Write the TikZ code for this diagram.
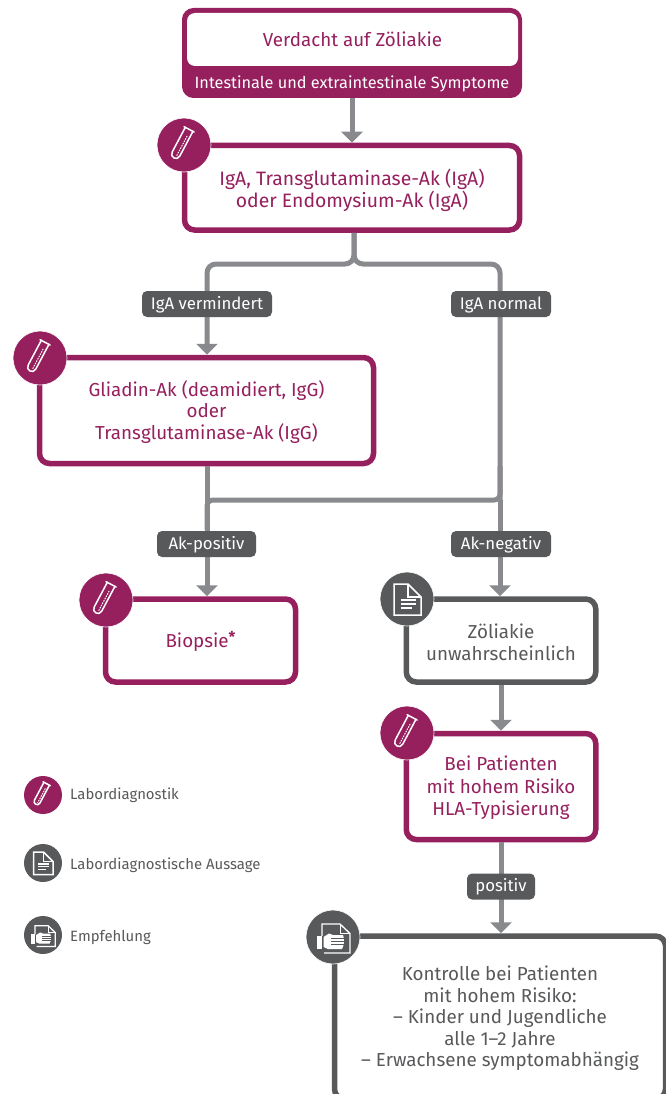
\documentclass[tikz,border=0pt]{standalone}
\usepackage{fontspec}
\setmainfont{Fira Sans}
\usetikzlibrary{arrows.meta}
\definecolor{mag}{HTML}{96205E}
\definecolor{dgray}{HTML}{58595B}
\definecolor{lgray}{HTML}{898A8D}
\newcommand\tdn[1]{\rule{0pt}{#1pt}}
\tikzset{
  box/.style={draw=#1,text=#1,fill=white,line width=5.5pt,rounded corners=10pt,align=center,font=\fontsize{18.8}{21.5}\selectfont,inner sep=0pt},
  lab/.style={fill=dgray,text=white,rounded corners=5pt,font=\fontsize{16.8}{18}\selectfont,inner sep=0pt,minimum height=26pt,text height=10.5pt,text depth=0pt},
  conn/.style={draw=lgray,line width=5pt},
  arr/.style={conn,-{Triangle[width=21pt,length=11pt]}},
  iconbg/.style={circle,fill=#1,draw=white,line width=.6pt,inner sep=0pt,minimum size=54pt},
  legbg/.style={circle,fill=#1,inner sep=0pt,minimum size=38pt},
  legtxt/.style={text=dgray,anchor=west,inner sep=0pt,font=\fontsize{14.9}{16}\selectfont},
  pics/tubeicon/.style={code={
    \begin{scope}[shift={(-2.4,-1.5)},rotate=-28,draw=white,line width=1.5pt,line cap=round,line join=round]
      \draw (-5.7,-16) -- (5.7,-16);
      \draw (-4.3,-16) -- (-4.3,12) .. controls (-4.3,17.8) and (4.3,17.8) .. (4.3,12) -- (4.3,-16);
      \draw[line width=1pt,dash pattern=on 1pt off 1.6pt] (1.4,-9) -- (1.4,13);
    \end{scope}}},
  pics/pageicon/.style={code={
    \draw[white,line width=1.5pt,line join=miter] (-13,-15) -- (1,-15) -- (14,-2) -- (14,16) -- (-13,16) -- cycle;
    \draw[white,line width=1.2pt] (1,-15) -- (1,-2) -- (14,-2);
    \draw[white,line width=1.6pt] (-6.5,1) -- (9,1) (-6.5,5) -- (9,5) (-6.5,9) -- (4.7,9);}},
  pics/handicon/.style={code={
    \draw[white,line width=1.3pt,line join=miter] (-11,-1) -- (-11,-13) -- (7,-13) -- (17,-3.5) -- (17,16) -- (-9,16);
    \draw[white,line width=1pt] (7,-13) -- (7,-3.5) -- (17,-3.5);
    \fill[white] (-16,-1) rectangle (-11,12);
    \fill[white] (-9.5,0) -- (-4,-3.5) -- (0,-2) -- (10,-2) .. controls (11.5,2) and (11.5,8) .. (9,12) -- (-5,12) -- (-9.5,10) -- cycle;
    \draw[dgray,line width=.5pt] (-2,1.5) -- (11,1.5) (-2,4.5) -- (11,4.5) (-2,7.5) -- (11,7.5);}}
}
\begin{document}
\begin{tikzpicture}[x=1pt,y=-1pt]
\useasboundingbox (0,0) rectangle (666,1094);
\clip (0,0) rectangle (666,1094);
% boxes
\node[draw=mag,fill=mag,line width=1pt,rounded corners=11pt,minimum width=339pt,minimum height=89pt,inner sep=0pt] (b1) at (352,53) {};
\node[fill=white,text=mag,rounded corners=8pt,minimum width=331pt,minimum height=53pt,inner sep=0pt,font=\fontsize{18.8}{21.5}\selectfont,text height=14pt,text depth=0pt] (b1t) at (352.5,39.5) {Verdacht auf Zöliakie};
\node[text=white,inner sep=0pt,font=\fontsize{16.3}{18}\selectfont] (b1b) at (352,83.5) {Intestinale und extraintestinale Symptome};
\node[box=mag,minimum width=335pt,minimum height=84.5pt] (b2) at (352,187.75) {\tdn{22}{\fontsize{19.4}{21.5}\selectfont IgA, Transglutaminase-Ak (IgA)}\\{\fontsize{19.4}{21.5}\selectfont oder Endomysium-Ak (IgA)}};
\node[box=mag,minimum width=334pt,minimum height=106pt] (b3) at (206.5,410.5) {\tdn{18}Gliadin-Ak (deamidiert, IgG)\\oder\\Transglutaminase-Ak (IgG)};
\node[box=mag,minimum width=190pt,minimum height=83pt] (b4) at (200.5,640.5) {\tdn{17}Biopsie\raisebox{5pt}{\fontsize{15}{15}\selectfont\bfseries *}};
\node[box=dgray,minimum width=189.5pt,minimum height=83pt] (b5) at (501,640.5) {\tdn{18}Zöliakie\\unwahrscheinlich};
\node[box=mag,minimum width=189.5pt,minimum height=106pt] (b6) at (501,786.5) {\tdn{17}Bei Patienten\\[1pt]mit hohem Risiko\\[.5pt]HLA-Typisierung};
\node[box=dgray,minimum width=331pt,minimum height=163pt] (b7) at (500,1017.5) {\tdn{16}Kontrolle bei Patienten\\mit hohem Risiko:\\– Kinder und Jugendliche\\alle 1–2 Jahre\\– Erwachsene symptomabhängig};
% routing points
\coordinate (top) at (354,264);
\coordinate (vl) at (207,264);
\coordinate (vr) at (500,264);
\coordinate (ml) at (207,500);
\coordinate (mr) at (500,500);
\coordinate (mb) at (207,530);
% connectors
\draw[arr] (b1.south) -- (b2.north);
\draw[arr,rounded corners=9pt] ([xshift=2pt]b2.south) -- (top) -- (vl) -- (b3.north -| vl);
\draw[conn,rounded corners=9pt] ([xshift=2pt]b2.south) -- (top) -- (vr) -- (mr);
\draw[conn,rounded corners=6pt] (vr |- b3.south) -- (mr) -- (ml) -- (mb);
\draw[arr] (b3.south -| ml) -- (b4.north -| ml);
\draw[arr] (mr) -- (b5.north -| mr);
\draw[arr] (b5.south) -- (b6.north);
\draw[arr] (b6.south) -- (b6.south |- b7.north);
% labels
\node[lab,minimum width=130pt] (l1) at (207,304) {IgA vermindert};
\node[lab,minimum width=100pt] (l2) at (501,304) {IgA normal};
\node[lab,minimum width=99pt] (l3) at (206.5,544) {Ak-positiv};
\node[lab,minimum width=100pt] (l4) at (501,544) {Ak-negativ};
\node[lab,minimum width=68pt] (l5) at (501,886.5) {positiv};
% icons
\node[iconbg=mag] (i2) at (184,145) {}; \pic at (i2) {tubeicon};
\node[iconbg=mag] (i3) at (40,358) {}; \pic at (i3) {tubeicon};
\node[iconbg=mag] (i4) at (106,600) {}; \pic at (i4) {tubeicon};
\node[iconbg=dgray] (i5) at (407,599) {}; \pic at (i5) {pageicon};
\node[iconbg=mag] (i6) at (407,733) {}; \pic at (i6) {tubeicon};
\node[iconbg=dgray] (i7) at (333,937) {}; \pic at (i7) {handicon};
% legend
\node[legbg=mag] (g1) at (43,795) {}; \pic[scale=.72] at (g1) {tubeicon};
\node[legbg=dgray] (g2) at (43,863) {}; \pic[scale=.72] at (g2) {pageicon};
\node[legbg=dgray] (g3) at (43,935) {}; \pic[scale=.72] at (g3) {handicon};
\node[legtxt] (t1) at (70,795.5) {Labordiagnostik};
\node[legtxt] (t2) at (70,865.5) {Labordiagnostische Aussage};
\node[legtxt] (t3) at (70,937.5) {Empfehlung};
\end{tikzpicture}
\end{document}
